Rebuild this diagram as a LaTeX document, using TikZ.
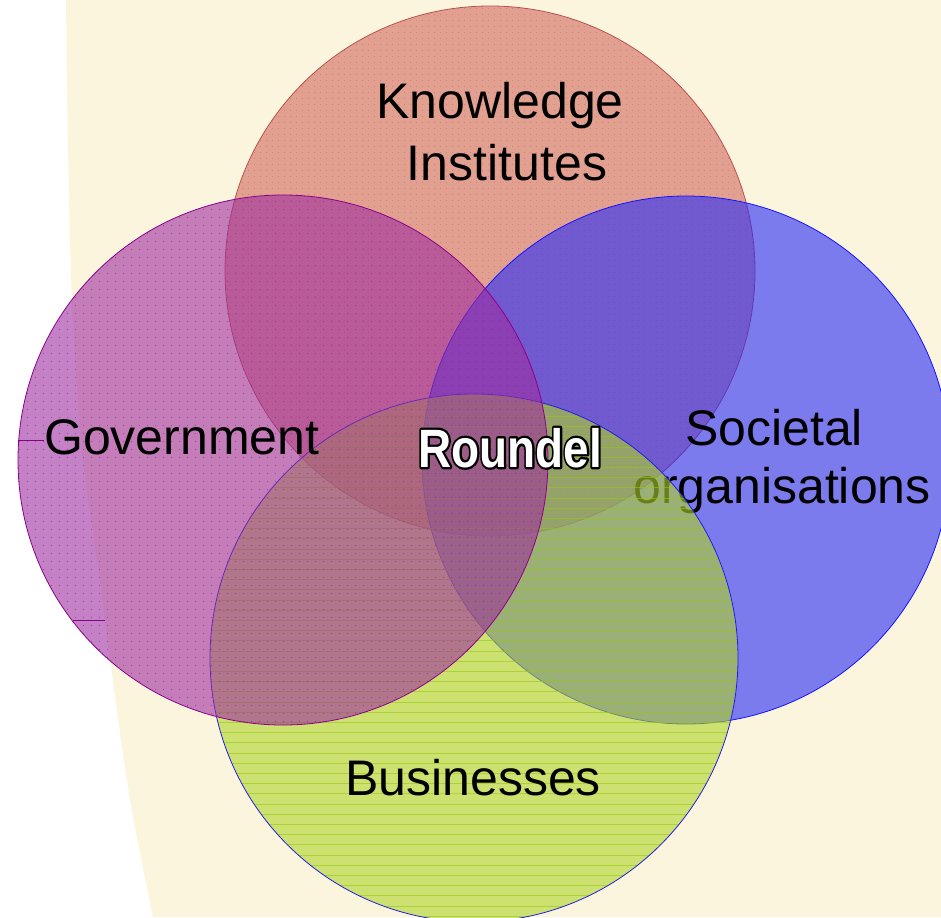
\documentclass[tikz,border=0pt]{standalone}
\usepackage{fontspec}
\setmainfont{Liberation Sans}
\usetikzlibrary{patterns.meta}
\definecolor{cream}{RGB}{252,245,222}
\definecolor{kfill}{RGB}{210,105,92}
\definecolor{kline}{RGB}{185,80,80}
\definecolor{kdot}{RGB}{200,70,80}
\definecolor{gfill}{RGB}{159,45,159}
\definecolor{gline}{RGB}{140,0,140}
\definecolor{gdot}{RGB}{140,20,140}
\definecolor{sfill}{RGB}{39,43,249}
\definecolor{sline}{RGB}{20,20,255}
\definecolor{bfill}{RGB}{174,212,39}
\definecolor{bline}{RGB}{30,30,230}
\definecolor{bhatch}{RGB}{150,200,20}
\tikzdeclarepattern{name=kdots, type=uncolored, bounding box={(0pt,0pt) and (6pt,6pt)}, tile size={(6pt,6pt)}, code={\fill (3pt,3pt) circle (0.55pt);}}
\tikzdeclarepattern{name=gdots, type=uncolored, bounding box={(0pt,0pt) and (8pt,8pt)}, tile size={(8pt,8pt)}, code={\fill (4pt,4pt) circle (0.6pt);}}
\newcommand{\rndword}{\scalebox{0.85}[1]{Roundel}}
\newcommand{\outlined}{\rlap{\color{black}\special{pdf:literal direct 2 Tr 4.6 w 0 0 0 RG 1 j}\rndword\special{pdf:literal direct 0 Tr}}{\color{white}\rndword}}
\tikzset{
  lbl/.style={inner sep=0pt, anchor=base, text=black, font=\fontsize{50}{58}\selectfont},
  rnd/.style={inner sep=0pt, anchor=base, font=\fontsize{54}{60}\selectfont\bfseries},
  ring/.style={line width=0.8pt}
}
\begin{document}
\begin{tikzpicture}[x=1pt,y=-1pt]
\useasboundingbox (0,0) rectangle (941,917);
\clip (0,0) rectangle (941,917);
\fill[white] (0,0) rectangle (941,917);
% cream page
\fill[cream] plot[smooth] coordinates {(66,0) (68,150) (72,300) (82,450) (100,580) (110,660) (130,800) (153,917)} -- (941,917) -- (941,0) -- cycle;
% Knowledge institutes
\fill[kfill, opacity=0.6] (490,271) circle (265);
\fill[pattern=kdots, pattern color=kdot, opacity=0.5] (490,271) circle (265);
\draw[kline, ring] (490,271) circle (265);
% Societal organisations
\fill[sfill, opacity=0.6] (686,460) circle (264);
\draw[sline, ring] (686,460) circle (264);
\node[lbl] (soc1) at (774,445) {Societal};
\node[lbl] (soc2) at (782,503) {organisations};
% Businesses
\fill[bfill, opacity=0.6] (474,658) circle (264);
\begin{scope}
  \clip (474,658) circle (264);
  \foreach \k in {0,...,52} {
    \draw[bhatch, line width=0.9pt, opacity=0.6] (200,{396+10.2*\k}) -- (750,{396+10.2*\k});
  }
\end{scope}
\draw[bline, ring] (474,658) circle (264);
% Government
\fill[gfill, opacity=0.6] (283,460) circle (265);
\fill[pattern=gdots, pattern color=gdot, opacity=0.6] (283,460) circle (265);
\draw[gline, ring] (283,460) circle (265);
\draw[gline, line width=0.6pt] (18,440) -- (44,440);
\draw[gline, line width=0.6pt] (73,620) -- (105,620);
% labels
\node[lbl] (kn1) at (500,119) {Knowledge};
\node[lbl] (kn2) at (507,181) {Institutes};
\node[lbl, anchor=base west] (gov) at (44,454) {Government};
\node[lbl] (bus) at (473,795) {Businesses};
% Roundel with black outline
\node[rnd] (roundel) at (510,467) {\outlined};
\end{tikzpicture}
\end{document}
